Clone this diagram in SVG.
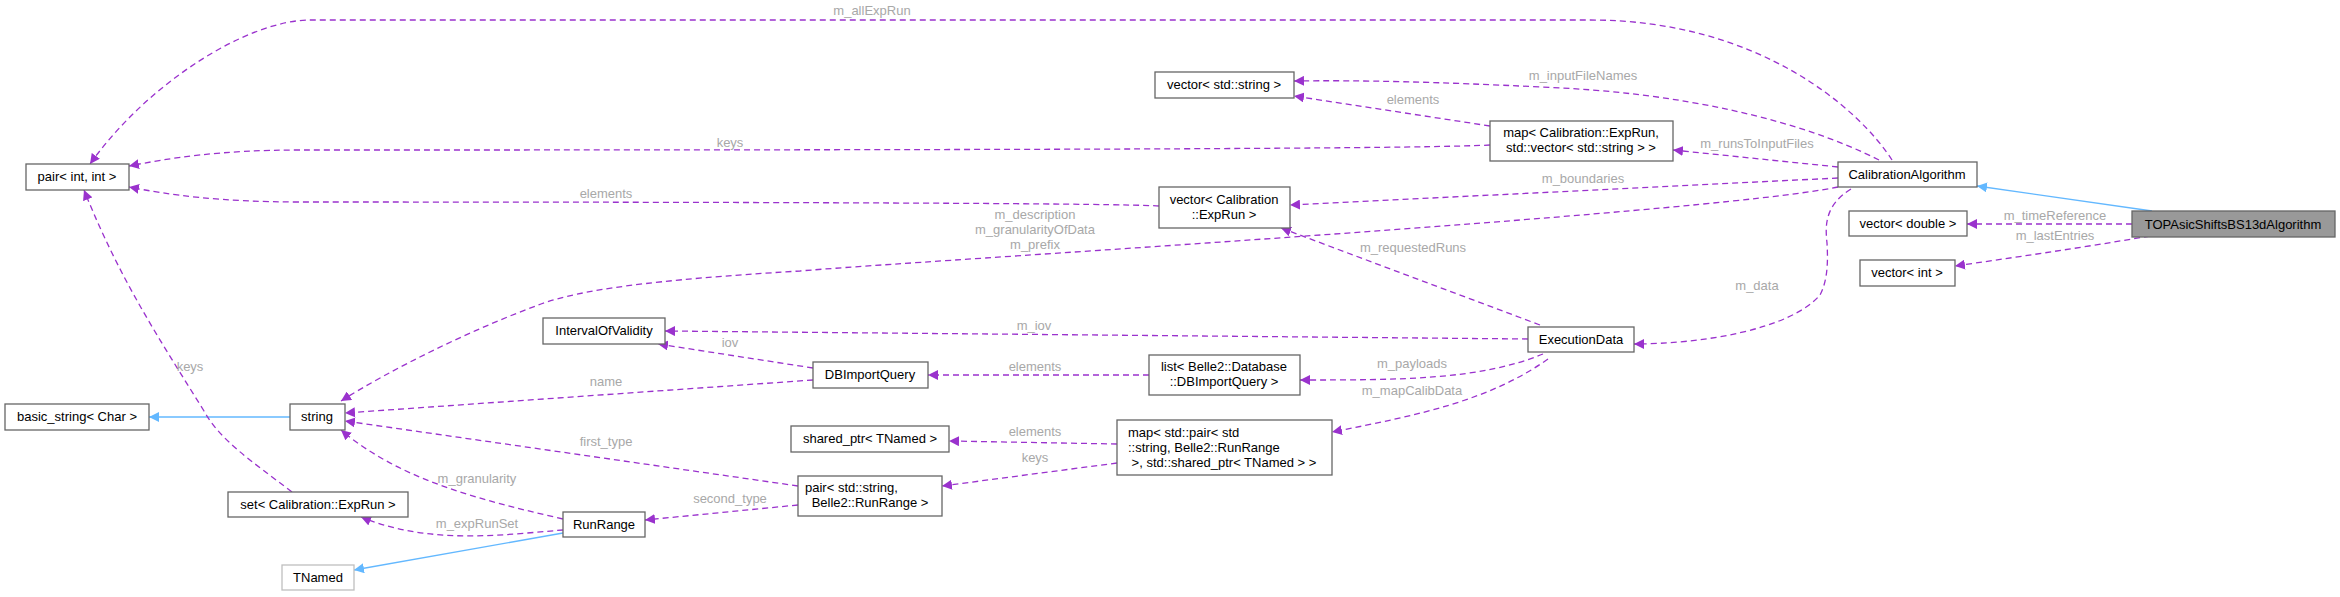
<svg xmlns="http://www.w3.org/2000/svg" width="2340" height="597" viewBox="0 0 2340 597">
<style>
.n rect{fill:#fff;stroke:#666;stroke-width:1.3}
.n text{font-family:"Liberation Sans",Arial,sans-serif;font-size:13px;fill:#000;text-anchor:middle}
.e{fill:none;stroke:#9a32cd;stroke-width:1.3;stroke-dasharray:6,4}
.i{fill:none;stroke:#63b8ff;stroke-width:1.3}
.l{font-family:"Liberation Sans",Arial,sans-serif;font-size:13px;fill:#a8a8a8;text-anchor:middle}
</style>
<defs>
<marker id="ap" viewBox="0 0 10 10" refX="10" refY="5" markerWidth="10" markerHeight="10" markerUnits="userSpaceOnUse" orient="auto"><path d="M0,0 L10,5 L0,10 z" fill="#9a32cd"/></marker>
<marker id="ab" viewBox="0 0 10 10" refX="10" refY="5" markerWidth="10" markerHeight="10" markerUnits="userSpaceOnUse" orient="auto"><path d="M0,0 L10,5 L0,10 z" fill="#63b8ff"/></marker>
</defs>
<g id="edges">
<path class="i" d="M2152,211 L1977,186" marker-end="url(#ab)"/>
<path class="e" d="M2132,224 L1967,224" marker-end="url(#ap)"/>
<path class="e" d="M2150,236 C2080,248 2010,258 1955,266" marker-end="url(#ap)"/>
<path class="e" d="M1892,160 C1860,110 1760,20 1590,20 L310,20 C250,20 150,80 90,164" marker-end="url(#ap)"/>
<path class="e" d="M1879,160 C1800,120 1680,92 1540,87 C1440,82 1360,80 1294,81" marker-end="url(#ap)"/>
<path class="e" d="M1490,126 L1294,96" marker-end="url(#ap)"/>
<path class="e" d="M1490,145 C1400,150 700,150 300,150 C220,150 170,158 129,166" marker-end="url(#ap)"/>
<path class="e" d="M1838,167 L1673,150" marker-end="url(#ap)"/>
<path class="e" d="M1159,206 C1100,202 400,202 300,202 C220,202 170,195 129,187" marker-end="url(#ap)"/>
<path class="e" d="M1838,178 L1290,205" marker-end="url(#ap)"/>
<path class="e" d="M1838,187 C1700,215 900,262 800,271 C650,280 580,290 541,304 C470,330 390,370 341,401" marker-end="url(#ap)"/>
<path class="e" d="M1851,189 C1825,205 1825,225 1827,243 C1828,260 1828,280 1820,295 C1790,330 1700,344 1634,344" marker-end="url(#ap)"/>
<path class="e" d="M1540,325 L1281,228" marker-end="url(#ap)"/>
<path class="e" d="M1528,339 L665,331" marker-end="url(#ap)"/>
<path class="e" d="M1543,354 C1480,380 1400,380 1300,380" marker-end="url(#ap)"/>
<path class="e" d="M1548,359 C1490,400 1420,415 1332,432" marker-end="url(#ap)"/>
<path class="e" d="M1149,375 L928,375" marker-end="url(#ap)"/>
<path class="e" d="M813,368 L658,344" marker-end="url(#ap)"/>
<path class="e" d="M813,380 L345,413" marker-end="url(#ap)"/>
<path class="e" d="M1117,444 L949,441" marker-end="url(#ap)"/>
<path class="e" d="M1117,463 L942,486" marker-end="url(#ap)"/>
<path class="e" d="M798,486 L345,421" marker-end="url(#ap)"/>
<path class="e" d="M798,505 L645,520" marker-end="url(#ap)"/>
<path class="e" d="M563,519 C480,500 400,480 341,430" marker-end="url(#ap)"/>
<path class="e" d="M563,530 C500,535 430,545 361,517" marker-end="url(#ap)"/>
<path class="i" d="M563,533 L354,570" marker-end="url(#ab)"/>
<path class="i" d="M290,417 L149,417" marker-end="url(#ab)"/>
<path class="e" d="M292,492 C250,460 220,440 204,411 C160,340 120,280 84,190" marker-end="url(#ap)"/>
</g>
<g id="labels">
<text class="l" x="2055" y="220">m_timeReference</text>
<text class="l" x="2055" y="240">m_lastEntries</text>
<text class="l" x="872" y="15">m_allExpRun</text>
<text class="l" x="1583" y="80">m_inputFileNames</text>
<text class="l" x="1413" y="104">elements</text>
<text class="l" x="730" y="147">keys</text>
<text class="l" x="1757" y="148">m_runsToInputFiles</text>
<text class="l" x="606" y="198">elements</text>
<text class="l" x="1583" y="183">m_boundaries</text>
<text class="l" x="1035" y="219">m_description</text>
<text class="l" x="1035" y="234">m_granularityOfData</text>
<text class="l" x="1035" y="249">m_prefix</text>
<text class="l" x="1757" y="290">m_data</text>
<text class="l" x="1413" y="252">m_requestedRuns</text>
<text class="l" x="1034" y="330">m_iov</text>
<text class="l" x="1412" y="368">m_payloads</text>
<text class="l" x="1412" y="395">m_mapCalibData</text>
<text class="l" x="1035" y="371">elements</text>
<text class="l" x="730" y="347">iov</text>
<text class="l" x="606" y="386">name</text>
<text class="l" x="1035" y="436">elements</text>
<text class="l" x="1035" y="462">keys</text>
<text class="l" x="606" y="446">first_type</text>
<text class="l" x="730" y="503">second_type</text>
<text class="l" x="477" y="483">m_granularity</text>
<text class="l" x="477" y="528">m_expRunSet</text>
<text class="l" x="190" y="371">keys</text>
</g>
<g id="TOPAsicShiftsBS13dAlgorithm" class="n"><rect x="2132" y="211" width="203" height="26" style="fill:#999"/><text x="2233" y="229">TOPAsicShiftsBS13dAlgorithm</text></g>
<g id="CalibrationAlgorithm" class="n"><rect x="1838" y="162" width="139" height="25"/><text x="1907" y="179">CalibrationAlgorithm</text></g>
<g id="vector_double" class="n"><rect x="1849" y="211" width="118" height="25"/><text x="1908" y="228">vector&lt; double &gt;</text></g>
<g id="vector_int" class="n"><rect x="1860" y="260" width="95" height="26"/><text x="1907" y="277">vector&lt; int &gt;</text></g>
<g id="pair_int_int" class="n"><rect x="26" y="164" width="103" height="26"/><text x="77" y="181">pair&lt; int, int &gt;</text></g>
<g id="basic_string" class="n"><rect x="5" y="404" width="144" height="26"/><text x="77" y="421">basic_string&lt; Char &gt;</text></g>
<g id="string" class="n"><rect x="290" y="404" width="55" height="26"/><text x="317" y="421">string</text></g>
<g id="IntervalOfValidity" class="n"><rect x="543" y="318" width="122" height="26"/><text x="604" y="335">IntervalOfValidity</text></g>
<g id="set_ExpRun" class="n"><rect x="228" y="492" width="180" height="25"/><text x="318" y="509">set&lt; Calibration::ExpRun &gt;</text></g>
<g id="RunRange" class="n"><rect x="563" y="512" width="82" height="25"/><text x="604" y="529">RunRange</text></g>
<g id="TNamed" class="n"><rect x="282" y="565" width="72" height="25" style="stroke:#bfbfbf"/><text x="318" y="582">TNamed</text></g>
<g id="vector_std_string" class="n"><rect x="1155" y="72" width="139" height="26"/><text x="1224" y="89">vector&lt; std::string &gt;</text></g>
<g id="map_ExpRun" class="n"><rect x="1490" y="121" width="183" height="40"/><text x="1581" y="137">map&lt; Calibration::ExpRun,</text><text x="1581" y="152">std::vector&lt; std::string &gt; &gt;</text></g>
<g id="vector_ExpRun" class="n"><rect x="1159" y="187" width="131" height="41"/><text x="1224" y="204">vector&lt; Calibration</text><text x="1224" y="219">::ExpRun &gt;</text></g>
<g id="DBImportQuery" class="n"><rect x="813" y="362" width="115" height="26"/><text x="870" y="379">DBImportQuery</text></g>
<g id="list_DBImportQuery" class="n"><rect x="1149" y="355" width="151" height="40"/><text x="1224" y="371">list&lt; Belle2::Database</text><text x="1224" y="386">::DBImportQuery &gt;</text></g>
<g id="ExecutionData" class="n"><rect x="1528" y="327" width="106" height="25"/><text x="1581" y="344">ExecutionData</text></g>
<g id="shared_ptr_TNamed" class="n"><rect x="791" y="426" width="158" height="26"/><text x="870" y="443">shared_ptr&lt; TNamed &gt;</text></g>
<g id="map_pair" class="n"><rect x="1117" y="420" width="215" height="55"/><text x="1128" y="437" style="text-anchor:start">map&lt; std::pair&lt; std</text><text x="1128" y="452" style="text-anchor:start">::string, Belle2::RunRange</text><text x="1224" y="467">&gt;, std::shared_ptr&lt; TNamed &gt; &gt;</text></g>
<g id="pair_string_RunRange" class="n"><rect x="798" y="476" width="144" height="40"/><text x="805" y="492" style="text-anchor:start">pair&lt; std::string,</text><text x="870" y="507">Belle2::RunRange &gt;</text></g>
</svg>
